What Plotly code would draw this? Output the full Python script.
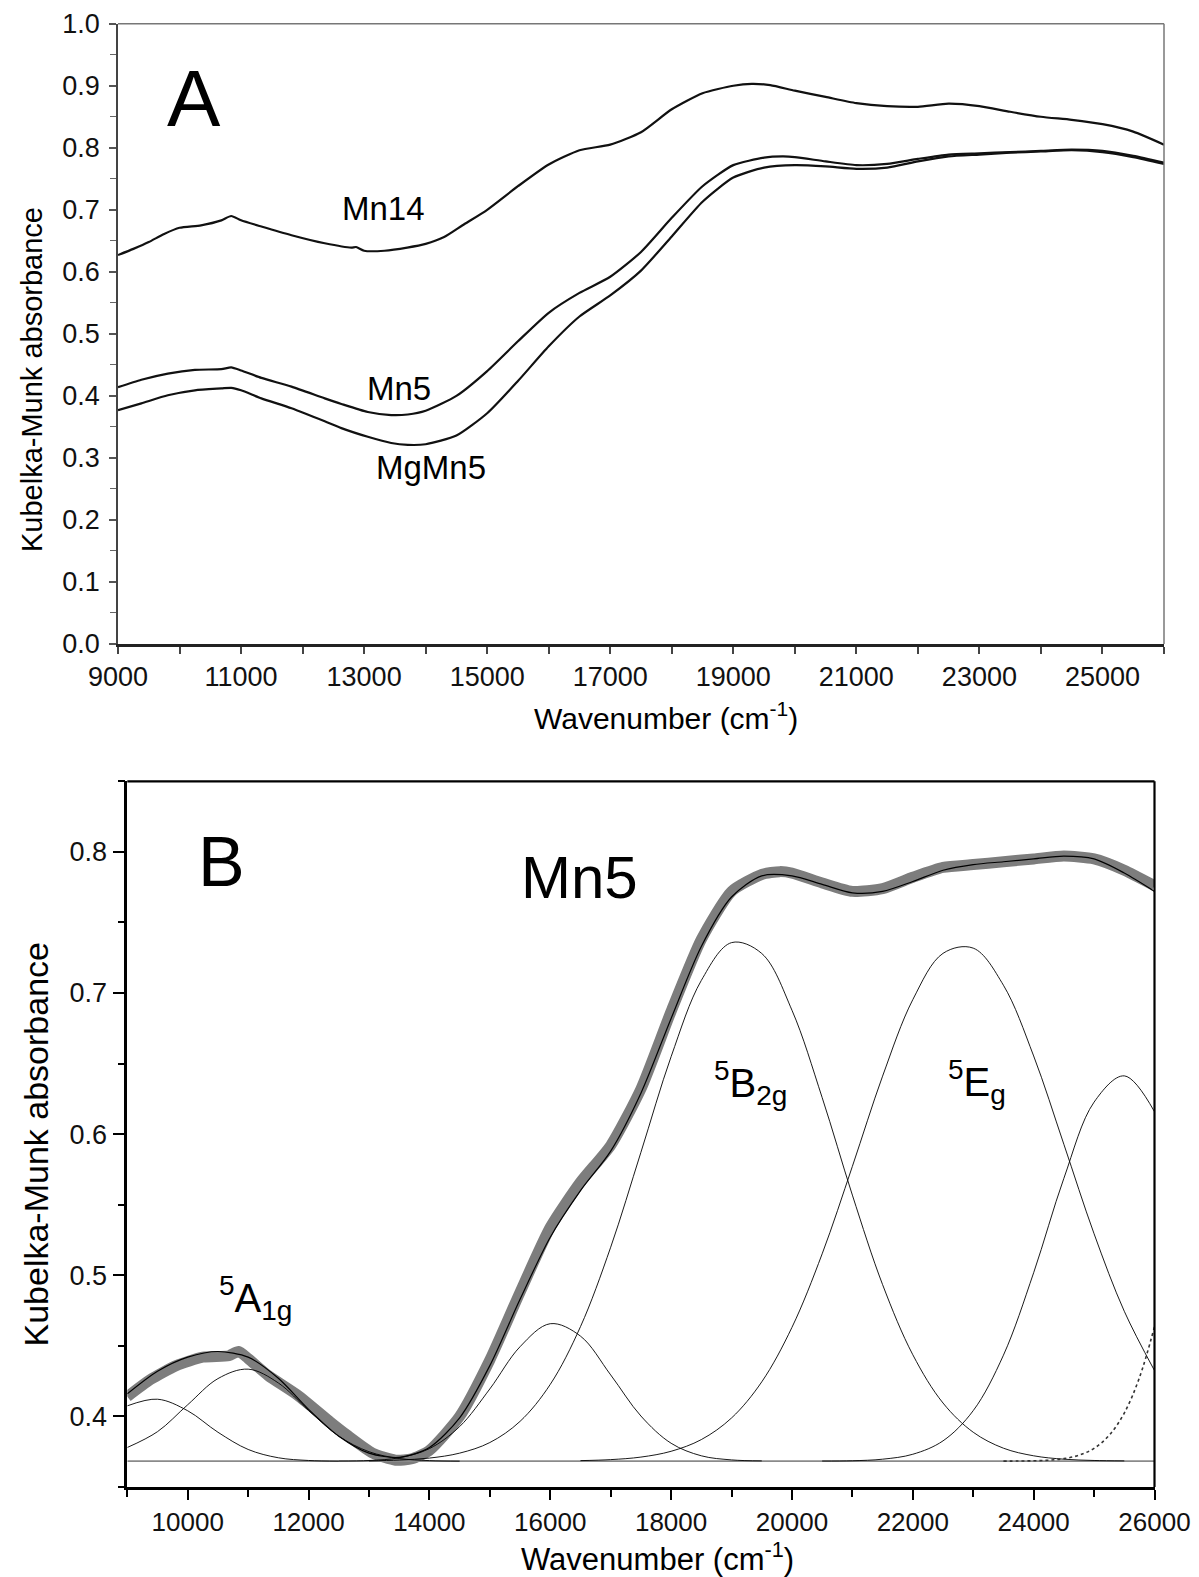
import plotly.graph_objects as go

W, H = 1199, 1577
FONT = "Liberation Sans, Arial, sans-serif"

# ---------------- Panel A data ----------------
wn_mn14 = [9000, 9250, 9500, 9750, 10000, 10350, 10680, 10840, 11000, 11330, 11820, 12360,
           12790, 12870, 13000, 13330, 13700, 14000, 14300, 14600, 15000, 15500, 16000, 16500,
           17000, 17500, 18000, 18500, 19000, 19300, 19600, 20000, 20500, 21000, 21500, 22000,
           22500, 23000, 23500, 24000, 24500, 25000, 25500, 26000]
mn14 = [0.627, 0.637, 0.648, 0.661, 0.671, 0.675, 0.683, 0.690, 0.683, 0.673, 0.659, 0.646,
        0.639, 0.640, 0.634, 0.634, 0.639, 0.645, 0.656, 0.675, 0.700, 0.738, 0.773, 0.796,
        0.805, 0.825, 0.862, 0.888, 0.900, 0.903, 0.901, 0.892, 0.882, 0.872, 0.867, 0.866,
        0.871, 0.867, 0.858, 0.850, 0.845, 0.838, 0.826, 0.805]

wn_mn5 = [9000, 9380, 9810, 10250, 10680, 10840, 11000, 11330, 11820, 12360, 12630, 13060,
          13440, 13710, 14000, 14500, 15000, 15500, 16000, 16500, 17000, 17500, 18000, 18500,
          19000, 19500, 19800, 20000, 20500, 21000, 21500, 22000, 22500, 23000, 23500, 24000,
          24500, 25000, 25500, 26000]
mn5 = [0.414, 0.426, 0.436, 0.442, 0.443, 0.446, 0.441, 0.429, 0.415, 0.396, 0.387, 0.374,
       0.369, 0.370, 0.376, 0.400, 0.440, 0.488, 0.534, 0.566, 0.592, 0.632, 0.687, 0.738,
       0.772, 0.784, 0.786, 0.785, 0.778, 0.772, 0.774, 0.782, 0.789, 0.791, 0.793, 0.795,
       0.797, 0.795, 0.787, 0.776]

wn_mgmn5 = [9000, 9380, 9810, 10250, 10680, 10840, 11000, 11330, 11820, 12360, 12630, 13060,
            13440, 13710, 14000, 14500, 15000, 15500, 16000, 16500, 17000, 17500, 18000, 18500,
            19000, 19500, 20000, 20500, 21000, 21500, 22000, 22500, 23000, 23500, 24000, 24500,
            25000, 25500, 26000]
mgmn5 = [0.377, 0.388, 0.401, 0.409, 0.412, 0.413, 0.409, 0.396, 0.380, 0.359, 0.348, 0.334,
         0.324, 0.321, 0.322, 0.336, 0.372, 0.424, 0.480, 0.528, 0.562, 0.602, 0.657, 0.713,
         0.752, 0.768, 0.772, 0.770, 0.766, 0.768, 0.778, 0.786, 0.789, 0.792, 0.794, 0.796,
         0.793, 0.785, 0.774]

a_xticks = [9000, 11000, 13000, 15000, 17000, 19000, 21000, 23000, 25000]
a_xminor = [10000, 12000, 14000, 16000, 18000, 20000, 22000, 24000, 26000]
a_yticks = [0.0, 0.1, 0.2, 0.3, 0.4, 0.5, 0.6, 0.7, 0.8, 0.9, 1.0]
a_yminor = [0.05, 0.15, 0.25, 0.35, 0.45, 0.55, 0.65, 0.75, 0.85, 0.95]

# ---------------- Panel B data ----------------
wn_fit = [9000, 9500, 10000, 10500, 11000, 11500, 12000, 12500, 13000, 13500, 14000, 14500,
          15000, 15500, 16000, 16500, 17000, 17500, 18000, 18500, 19000, 19500, 20000, 20500,
          21000, 21500, 22000, 22500, 23000, 23500, 24000, 24500, 25000, 25500, 26000]
fit = [0.416, 0.432, 0.442, 0.446, 0.442, 0.427, 0.405, 0.386, 0.374, 0.371, 0.378, 0.399,
       0.436, 0.483, 0.527, 0.560, 0.588, 0.629, 0.682, 0.733, 0.768, 0.783, 0.783, 0.777,
       0.771, 0.772, 0.779, 0.787, 0.791, 0.793, 0.795, 0.797, 0.795, 0.785, 0.772]

baseline_wn = [9000, 26000]
baseline = [0.3683, 0.3683]

wn_c1 = [9000, 9500, 10000, 10500, 11000, 11500, 12000, 12500]
c1 = [0.4075, 0.4122, 0.4040, 0.3888, 0.3766, 0.3707, 0.3688, 0.3683]

wn_c2 = [9000, 9500, 10000, 10500, 11000, 11500, 12000, 12500, 13000, 13500, 14000, 14500]
c2 = [0.3780, 0.3892, 0.4083, 0.4268, 0.4335, 0.4237, 0.4042, 0.3860, 0.3750, 0.3702, 0.3687, 0.3683]

wn_c3 = [12500, 13000, 13500, 14000, 14500, 15000, 15500, 16000, 16500, 17000, 17500, 18000,
         18500, 19000, 19500]
c3 = [0.3684, 0.3688, 0.3707, 0.3772, 0.3928, 0.4195, 0.4494, 0.4657, 0.4569, 0.4294, 0.4003,
      0.3810, 0.3721, 0.3692, 0.3685]

wn_c4 = [13000, 13500, 14000, 14500, 15000, 15500, 16000, 16500, 17000, 17500, 18000, 18500,
         19000, 19500, 20000, 20500, 21000, 21500, 22000, 22500, 23000, 23500, 24000, 24500,
         25000, 25500]
c4 = [0.3685, 0.3691, 0.3705, 0.3740, 0.3815, 0.3965, 0.4227, 0.4636, 0.5199, 0.5871, 0.6549,
      0.7089, 0.7357, 0.7280, 0.6878, 0.6259, 0.5568, 0.4934, 0.4437, 0.4095, 0.3888, 0.3775,
      0.3721, 0.3697, 0.3688, 0.3685]

wn_c5 = [16500, 17000, 17500, 18000, 18500, 19000, 19500, 20000, 20500, 21000, 21500, 22000,
         22500, 23000, 23500, 24000, 24500, 25000, 25500, 26000]
c5 = [0.3687, 0.3694, 0.3712, 0.3753, 0.3836, 0.3989, 0.4245, 0.4631, 0.5152, 0.5772, 0.6411,
      0.6953, 0.7281, 0.7318, 0.7055, 0.6554, 0.5928, 0.5294, 0.4745, 0.4325]

wn_c6 = [20500, 21000, 21500, 22000, 22500, 23000, 23500, 24000, 24500, 25000, 25500, 26000]
c6 = [0.3684, 0.3686, 0.3697, 0.3732, 0.3827, 0.4041, 0.4434, 0.5018, 0.5687, 0.6227, 0.6413,
      0.6159]

wn_c7 = [23500, 23750, 24000, 24250, 24500, 24750, 25000, 25250, 25500, 25750, 26000]
c7 = [0.3683, 0.3684, 0.3686, 0.3690, 0.3701, 0.3725, 0.3774, 0.3866, 0.4024, 0.4274, 0.4636]

b_xticks = [10000, 12000, 14000, 16000, 18000, 20000, 22000, 24000, 26000]
b_xminor = [9000, 11000, 13000, 15000, 17000, 19000, 21000, 23000, 25000]
b_yticks = [0.4, 0.5, 0.6, 0.7, 0.8]
b_yminor = [0.35, 0.45, 0.55, 0.65, 0.75, 0.85]

fig = go.Figure()

# Panel A traces
for wn, vals in [(wn_mn14, mn14), (wn_mn5, mn5), (wn_mgmn5, mgmn5)]:
    fig.add_trace(go.Scatter(x=wn, y=vals, mode="lines", xaxis="x", yaxis="y",
                             line=dict(color="#111111", width=2.2, shape="spline", smoothing=0.6),
                             showlegend=False, hoverinfo="skip"))

# Panel B traces
fig.add_trace(go.Scatter(x=wn_mn5, y=mn5, mode="lines", xaxis="x2", yaxis="y2",
                         line=dict(color="#7d7d7d", width=11, shape="spline", smoothing=0.6),
                         showlegend=False, hoverinfo="skip"))
fig.add_trace(go.Scatter(x=baseline_wn, y=baseline, mode="lines", xaxis="x2", yaxis="y2",
                         line=dict(color="#8a8a8a", width=1.8), showlegend=False, hoverinfo="skip"))
for wn, vals in [(wn_c1, c1), (wn_c2, c2), (wn_c3, c3), (wn_c4, c4), (wn_c5, c5), (wn_c6, c6)]:
    fig.add_trace(go.Scatter(x=wn, y=vals, mode="lines", xaxis="x2", yaxis="y2",
                             line=dict(color="#000000", width=0.9, shape="spline", smoothing=1.0),
                             showlegend=False, hoverinfo="skip"))
fig.add_trace(go.Scatter(x=wn_c7, y=c7, mode="lines", xaxis="x2", yaxis="y2",
                         line=dict(color="#333333", width=1.6, dash="dot", shape="spline"),
                         showlegend=False, hoverinfo="skip"))
fig.add_trace(go.Scatter(x=wn_fit, y=fit, mode="lines", xaxis="x2", yaxis="y2",
                         line=dict(color="#000000", width=1.2, shape="spline", smoothing=0.8),
                         showlegend=False, hoverinfo="skip"))

tickfontA = dict(family=FONT, size=27, color="#111111")
tickfontBx = dict(family=FONT, size=26, color="#111111")
tickfontBy = dict(family=FONT, size=27, color="#111111")

fig.update_layout(
    width=W, height=H,
    margin=dict(l=0, r=0, t=0, b=0, autoexpand=False),
    paper_bgcolor="white", plot_bgcolor="white",
    showlegend=False,
    xaxis=dict(domain=[110 / W, 1156 / W], range=[9000, 26000], anchor="y", automargin=False,
               tickmode="array", tickvals=a_xticks, tickformat="d", ticks="outside", ticklen=7,
               tickwidth=1.5, tickcolor="#444444", tickfont=tickfontA, showgrid=False,
               zeroline=False, showline=True, linecolor="#222222", linewidth=2.5,
               minor=dict(tickmode="array", tickvals=a_xminor, ticks="outside", ticklen=7,
                          tickwidth=1.5, tickcolor="#444444", showgrid=False)),
    yaxis=dict(domain=[1 - 636 / H, 1 - 15.7 / H], range=[0, 1], anchor="x", automargin=False,
               tickmode="array", tickvals=a_yticks, tickformat=".1f", ticks="outside", ticklen=7,
               tickwidth=1.5, tickcolor="#555555", tickfont=tickfontA, showgrid=False,
               zeroline=False, showline=True, linecolor="#444444", linewidth=1.5,
               ticklabelstandoff=4,
               minor=dict(tickmode="array", tickvals=a_yminor, ticks="outside", ticklen=6,
                          tickwidth=1.2, tickcolor="#666666", showgrid=False)),
    xaxis2=dict(domain=[119.3 / W, 1146.5 / W], range=[9000, 26000], anchor="y2", automargin=False,
                tickmode="array", tickvals=b_xticks, tickformat="d", ticks="outside", ticklen=10,
                tickwidth=2, tickcolor="#000000", tickfont=tickfontBx, showgrid=False,
                zeroline=False, showline=True, linecolor="#000000", linewidth=2.5,
                minor=dict(tickmode="array", tickvals=b_xminor, ticks="outside", ticklen=7,
                           tickwidth=2, tickcolor="#000000", showgrid=False)),
    yaxis2=dict(domain=[1 - 1479 / H, 1 - 773.3 / H], range=[0.35, 0.85], anchor="x2",
                automargin=False, tickmode="array", tickvals=b_yticks, tickformat=".1f",
                ticks="outside", ticklen=12, tickwidth=2, tickcolor="#000000", tickfont=tickfontBy,
                showgrid=False, zeroline=False, showline=True, linecolor="#000000", linewidth=2.5,
                minor=dict(tickmode="array", tickvals=b_yminor, ticks="outside", ticklen=7,
                           tickwidth=2, tickcolor="#000000", showgrid=False)),
)

# frame lines (top/right)
fig.add_shape(type="line", xref="x domain", yref="y domain", x0=0, x1=1, y0=1, y1=1,
              line=dict(color="#777777", width=1.5))
fig.add_shape(type="line", xref="x domain", yref="y domain", x0=1, x1=1, y0=0, y1=1,
              line=dict(color="#777777", width=1.5))
fig.add_shape(type="line", xref="x2 domain", yref="y2 domain", x0=0, x1=1, y0=1, y1=1,
              line=dict(color="#000000", width=2.2))
fig.add_shape(type="line", xref="x2 domain", yref="y2 domain", x0=1, x1=1, y0=0, y1=1,
              line=dict(color="#000000", width=2.2))

def ann(text, x, y, size, xref="x", yref="y", xanchor="center", yanchor="middle", angle=0):
    fig.add_annotation(text=text, x=x, y=y, xref=xref, yref=yref, xanchor=xanchor,
                       yanchor=yanchor, showarrow=False, textangle=angle,
                       font=dict(family=FONT, size=size, color="#000000"))

# Panel A labels
ann("A", 10241, 0.880, 80)
ann("Mn14", 12602, 0.702, 33, xanchor="left")
ann("Mn5", 13018, 0.412, 33, xanchor="left")
ann("MgMn5", 13159, 0.285, 33, xanchor="left")
ann("Kubelka-Munk absorbance", 24 / W, 1 - 372 / H, 29, xref="paper", yref="paper", angle=-90)
ann("Wavenumber (cm<sup>-1</sup>)", 658 / W, 1 - 708 / H, 30, xref="paper", yref="paper")

# Panel B labels
ann("B", 10145, 0.7925, 70, xref="x2", yref="y2", xanchor="left")
ann("Mn5", 17490, 0.782, 60, xref="x2", yref="y2", xanchor="right")
ann("<sup>5</sup>A<sub>1g</sub>", 10486, 0.484, 40, xref="x2", yref="y2", xanchor="left")
ann("<sup>5</sup>B<sub>2g</sub>", 18680, 0.636, 40, xref="x2", yref="y2", xanchor="left")
ann("<sup>5</sup>E<sub>g</sub>", 22545, 0.637, 40, xref="x2", yref="y2", xanchor="left")
ann("Kubelka-Munk absorbance", 27.5 / W, 1 - 1137 / H, 34, xref="paper", yref="paper", angle=-90)
ann("Wavenumber (cm<sup>-1</sup>)", 650 / W, 1 - 1549 / H, 31, xref="paper", yref="paper")

fig.write_html("out.html")
